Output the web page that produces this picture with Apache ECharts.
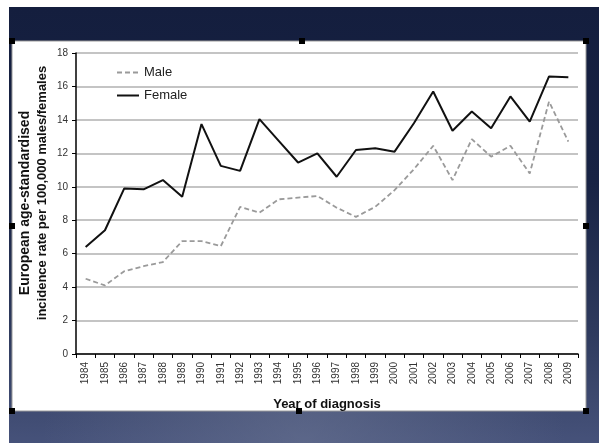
<!DOCTYPE html>
<html>
<head>
<meta charset="utf-8">
<script src="https://cdn.jsdelivr.net/npm/echarts@6/dist/echarts.min.js"></script>
<style>
html,body{margin:0;padding:0;background:#fff;}
#c{width:599px;height:443px;}
</style>
</head>
<body>
<div id="c"></div>
<script>
const years = ['1984','1985','1986','1987','1988','1989','1990','1991','1992','1993','1994','1995','1996','1997','1998','1999','2000','2001','2002','2003','2004','2005','2006','2007','2008','2009'];
const female = [6.4, 7.4, 9.9, 9.85, 10.4, 9.4, 13.75, 11.25, 10.95, 14.05, 12.75, 11.45, 12.0, 10.6, 12.2, 12.3, 12.1, 13.8, 15.7, 13.35, 14.5, 13.5, 15.4, 13.9, 16.6, 16.55];
const male = [4.5, 4.1, 4.95, 5.25, 5.5, 6.75, 6.75, 6.45, 8.8, 8.45, 9.25, 9.35, 9.45, 8.75, 8.2, 8.8, 9.8, 11.05, 12.45, 10.4, 12.85, 11.8, 12.45, 10.8, 15.1, 12.7];
const yTitle1 = 'European age-standardised';
const yTitle2 = 'incidence rate per 100,000 males/females';
const xTitle = 'Year of diagnosis';

const FONT = '"Liberation Sans", Arial, sans-serif';
const chart = echarts.init(document.getElementById('c'), null, {renderer: 'canvas'});

function handle(x, y) {
  return {type: 'rect', shape: {x: x - 3, y: y - 3, width: 6, height: 6}, style: {fill: '#000'}, z: 10, silent: true};
}

const option = {
  backgroundColor: '#ffffff',
  animation: false,
  graphic: [
    {type: 'rect', shape: {x: 9, y: 7, width: 590, height: 436}, z: -10, silent: true,
      style: {fill: {type: 'linear', x: 0, y: 0, x2: 0, y2: 1, colorStops: [
        {offset: 0, color: '#141e3e'}, {offset: 0.4, color: '#18234412'.slice(0, 7)}, {offset: 0.75, color: '#2f3b5e'}, {offset: 1, color: '#46527a'}]}}},
    {type: 'rect', shape: {x: 9, y: 7, width: 590, height: 436}, z: -9, silent: true,
      style: {fill: {type: 'radial', x: 0.5, y: 1.0, r: 0.6, colorStops: [
        {offset: 0, color: 'rgba(110,120,150,0.55)'}, {offset: 1, color: 'rgba(110,120,150,0)'}]}}},
    {type: 'rect', shape: {x: 12, y: 41, width: 574, height: 370}, z: -5, silent: true,
      style: {fill: '#ffffff', stroke: '#9a9a9a', lineWidth: 1}},
    handle(12, 41), handle(302, 41), handle(586, 41),
    handle(12, 226), handle(586, 226),
    handle(12, 411), handle(299, 411), handle(586, 411),
    {type: 'text', x: 25, y: 203, rotation: Math.PI / 2, silent: true,
      style: {text: yTitle1, fill: '#111', font: 'bold 14px ' + FONT, align: 'center', verticalAlign: 'middle'}},
    {type: 'text', x: 42, y: 193, rotation: Math.PI / 2, silent: true,
      style: {text: yTitle2, fill: '#111', font: 'bold 13px ' + FONT, align: 'center', verticalAlign: 'middle'}}
  ],
  grid: {left: 76, right: 21, top: 53, bottom: 89, containLabel: false, outerBoundsMode: 'none'},
  legend: {
    orient: 'vertical', left: 111, top: 61, itemWidth: 22, itemHeight: 10, itemGap: 10,
    itemStyle: {opacity: 0},
    textStyle: {fontFamily: FONT, fontSize: 13, color: '#222'},
    data: ['Male', 'Female']
  },
  xAxis: {
    type: 'category', data: years, boundaryGap: true,
    axisLine: {lineStyle: {color: '#000', width: 1.5}},
    axisTick: {show: true, interval: 0, length: 4, lineStyle: {color: '#000'}},
    axisLabel: {interval: 0, rotate: 90, fontSize: 10, fontFamily: FONT, color: '#333', margin: 8},
    name: xTitle, nameLocation: 'middle', nameGap: 44,
    nameTextStyle: {fontFamily: FONT, fontSize: 13, fontWeight: 'bold', color: '#111'}
  },
  yAxis: {
    type: 'value', min: 0, max: 18, interval: 2,
    axisLine: {show: true, lineStyle: {color: '#000', width: 1.5}},
    axisTick: {show: true, length: 4, lineStyle: {color: '#000'}},
    axisLabel: {fontSize: 10, fontFamily: FONT, color: '#333', margin: 8},
    splitLine: {show: true, lineStyle: {color: '#b0b0b0', width: 1.5}}
  },
  series: [
    {name: 'Male', type: 'line', data: male, symbol: 'none', showSymbol: false,
      itemStyle: {color: '#9a9a9a'},
      lineStyle: {color: '#9a9a9a', width: 1.8, type: [5, 3]}},
    {name: 'Female', type: 'line', data: female, symbol: 'none', showSymbol: false,
      itemStyle: {color: '#111'},
      lineStyle: {color: '#111', width: 2}}
  ]
};
chart.setOption(option);
</script>
</body>
</html>
